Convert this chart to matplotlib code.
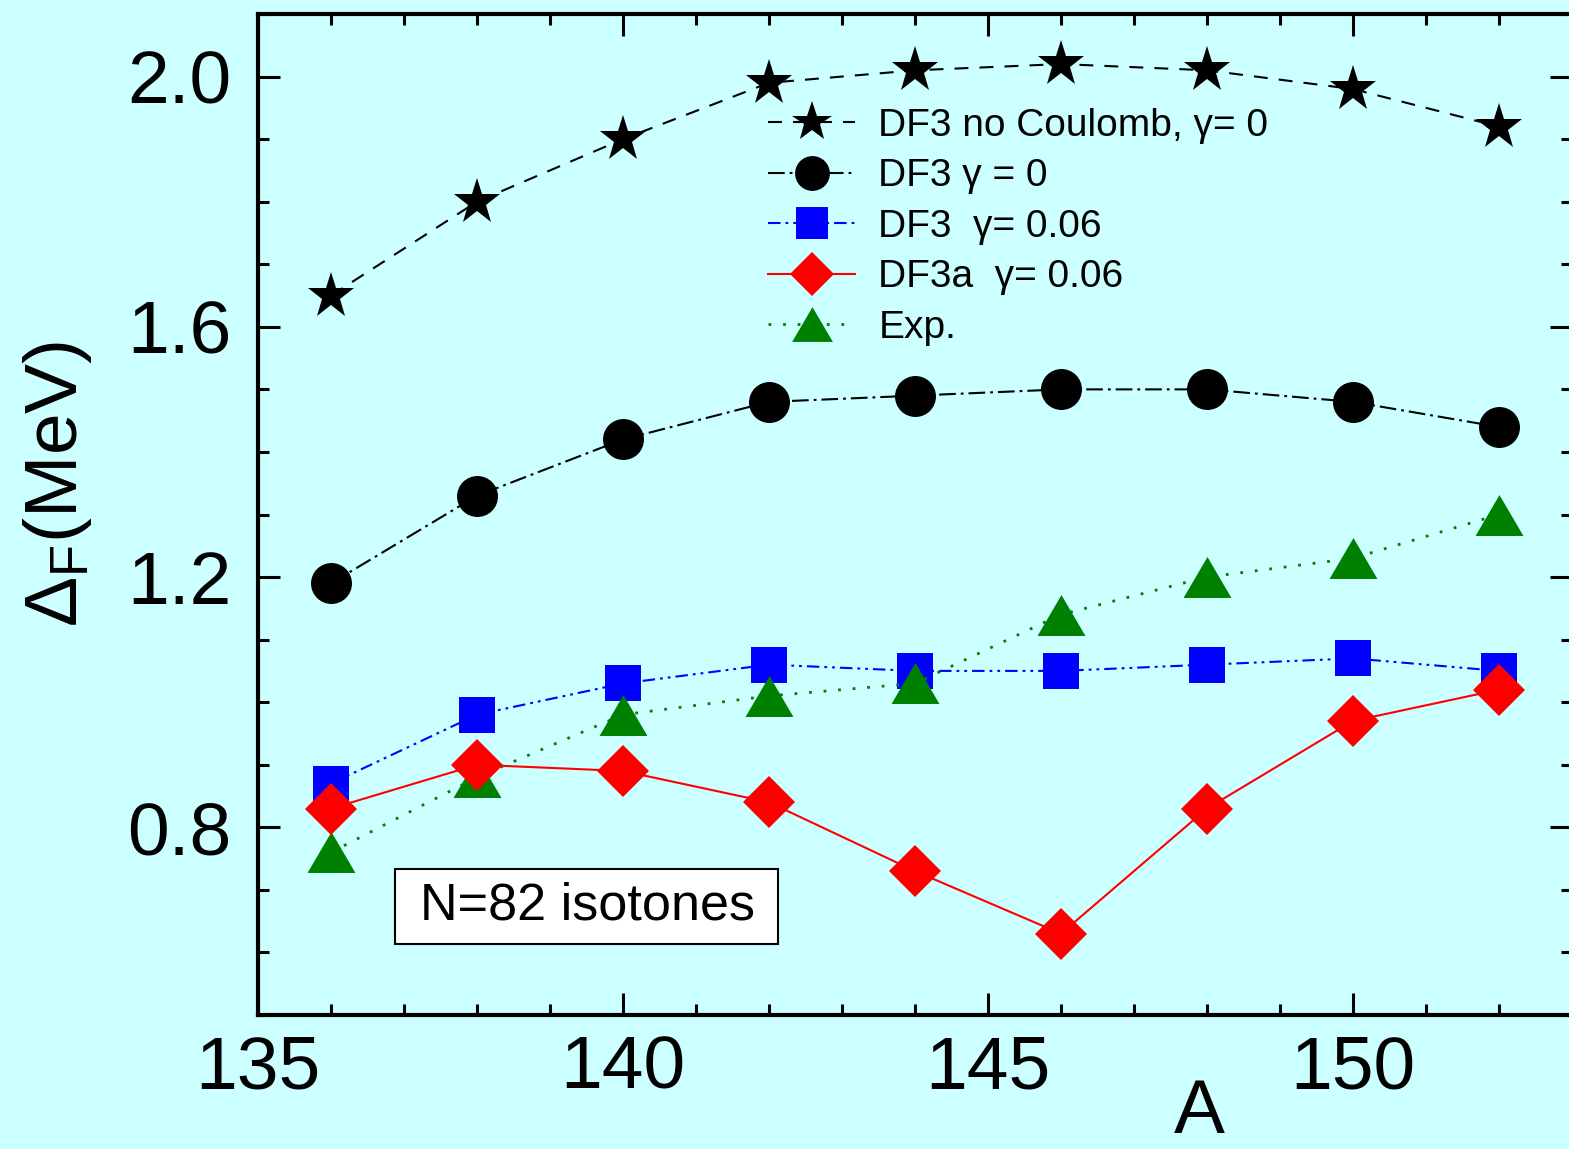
import numpy as np
import matplotlib.pyplot as plt
from matplotlib.ticker import MultipleLocator
from matplotlib.patches import Rectangle

plt.rcParams['font.family'] = ['Liberation Sans', 'DejaVu Sans']
plt.rcParams['mathtext.fontset'] = 'custom'
plt.rcParams['mathtext.rm'] = 'Liberation Sans'
plt.rcParams['mathtext.it'] = 'Liberation Sans:italic'
plt.rcParams['lines.scale_dashes'] = False

# dane: A, Delta_F (MeV)
A = [136, 138, 140, 142, 144, 146, 148, 150, 152]
df3_nocoul = [1.65, 1.80, 1.90, 1.99, 2.01, 2.02, 2.01, 1.98, 1.92]
df3_g0 = [1.19, 1.33, 1.42, 1.48, 1.49, 1.50, 1.50, 1.48, 1.44]
df3_g006 = [0.87, 0.98, 1.03, 1.06, 1.05, 1.05, 1.06, 1.07, 1.05]
df3a_g006 = [0.83, 0.90, 0.89, 0.84, 0.73, 0.63, 0.83, 0.97, 1.02]
exp_vals = [0.76, 0.88, 0.98, 1.01, 1.03, 1.14, 1.20, 1.23, 1.30]

labels = ["DF3 no Coulomb, γ= 0", "DF3 γ = 0", "DF3  γ= 0.06", "DF3a  γ= 0.06", "Exp."]

W, H = 1569, 1149
bg = '#CCFFFF'

fig = plt.figure(figsize=(W / 100, H / 100), dpi=100, facecolor=bg)
ax = fig.add_axes([258 / W, 1 - 1015 / H, 1314 / W, 1001 / H])
ax.set_facecolor(bg)

tri = [(0, 1), (-1.17, -1), (1.17, -1)]

l1, = ax.plot(A, df3_nocoul, color='black', lw=1.5, dashes=(10, 8),
              marker='*', ms=35, mew=0, label=labels[0])
l2, = ax.plot(A, df3_g0, color='black', lw=1.5, dashes=(12, 3.6, 2, 3.6),
              marker='o', ms=29.5, mew=0, label=labels[1])
l3, = ax.plot(A, df3_g006, color='#0000FF', lw=1.5, dashes=(9, 3.6, 2, 3.6, 2, 3.6),
              marker='s', ms=26.6, mew=0, label=labels[2])
l5, = ax.plot(A, exp_vals, color='#008000', lw=2, dashes=(2, 8.5),
              marker=tri, ms=34.5, mew=0, label=labels[4])
l4, = ax.plot(A, df3a_g006, color='#FF0000', lw=1.5, ls='-',
              marker='D', ms=26.5, mew=0, label=labels[3], zorder=5)

ax.set_xlim(135, 153)
ax.set_ylim(0.5, 2.1)
ax.xaxis.set_major_locator(MultipleLocator(5))
ax.xaxis.set_minor_locator(MultipleLocator(1))
ax.yaxis.set_major_locator(MultipleLocator(0.4))
ax.yaxis.set_minor_locator(MultipleLocator(0.1))
ax.yaxis.set_major_formatter(plt.FuncFormatter(lambda v, p: f"{v:.1f}"))
ax.tick_params(which='both', direction='in', top=True, right=True, width=2.2, colors='black')
ax.tick_params(which='major', length=16, labelsize=54)
ax.tick_params(which='minor', length=8)
ax.tick_params(axis='x', which='major', pad=14)
ax.tick_params(axis='y', which='major', pad=19)
for s in ax.spines.values():
    s.set_linewidth(3)

fig.text(1199 / W, 1 - 1133 / H, 'A', ha='center', va='baseline', fontsize=55)
fig.text(58 / W, 1 - 484 / H, r'$\Delta_{\mathrm{F}}$(MeV)', rotation=90,
         ha='center', va='center', fontsize=54)

ax.legend(handles=[l1, l2, l3, l4, l5], loc='upper left',
          bbox_to_anchor=(768 / W, 1 - 108 / H), bbox_transform=fig.transFigure,
          frameon=False, fontsize=28, handlelength=2.24, handletextpad=0.6,
          labelspacing=0.37, borderpad=0, borderaxespad=0, markerscale=0.85)

fig.patches.append(Rectangle((395 / W, 1 - 944 / H), 383 / W, 75 / H,
                             transform=fig.transFigure, facecolor='white',
                             edgecolor='black', lw=1.5, zorder=10))
fig.text(587 / W, 1 - 906 / H, 'N=82 isotones', ha='center', va='center',
         fontsize=37.5, zorder=11)

fig.savefig('out.png', dpi=100, facecolor=bg)
